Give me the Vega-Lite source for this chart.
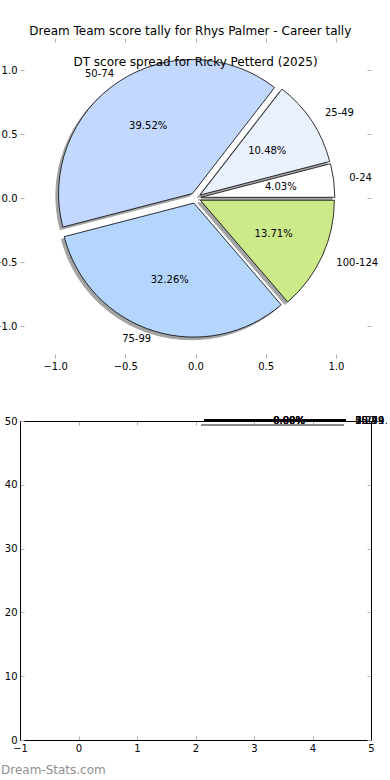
{
  "$schema": "https://vega.github.io/schema/vega-lite/v6.json",
  "background": "white",
  "padding": {"left": -8, "top": 24, "right": 0, "bottom": 0},
  "config": {
    "font": "DejaVu Sans",
    "view": {"stroke": null},
    "title": {"font": "DejaVu Sans", "fontSize": 12, "fontWeight": "normal", "color": "black"},
    "axis": {
      "grid": false,
      "tickColor": "#b0b0b0",
      "tickSize": -4,
      "tickWidth": 1,
      "labelFont": "DejaVu Sans",
      "labelFontSize": 10,
      "labelColor": "black",
      "labelPadding": 7,
      "labelFlush": false,
      "labelOverlap": false,
      "domainColor": "black",
      "domainWidth": 1,
      "title": null
    }
  },
  "title": {"text": "Dream Team score tally for Rhys Palmer - Career tally", "anchor": "middle", "offset": 0},
  "datasets": {
    "tally": [
      {"range": "0-24", "count": 5, "pct": "4.03%"},
      {"range": "25-49", "count": 13, "pct": "10.48%"},
      {"range": "50-74", "count": 49, "pct": "39.52%"},
      {"range": "75-99", "count": 40, "pct": "32.26%"},
      {"range": "100-124", "count": 17, "pct": "13.71%"}
    ],
    "empty": [
      {"range": "0-24", "count": 0, "pct": "0.00%"},
      {"range": "25-49", "count": 0, "pct": "0.00%"},
      {"range": "50-74", "count": 0, "pct": "0.00%"},
      {"range": "75-99", "count": 0, "pct": "0.00%"},
      {"range": "100-124", "count": 0, "pct": "0.00%"}
    ]
  },
  "spacing": 63,
  "bounds": "flush",
  "resolve": {"scale": {"x": "independent", "y": "independent", "theta": "independent", "color": "independent"}},
  "vconcat": [
    {
      "width": 351,
      "height": 320,
      "title": {"text": "DT score spread for Ricky Petterd (2025)", "anchor": "middle", "offset": -31},
      "data": {"name": "tally"},
      "transform": [
        {"window": [{"op": "row_number", "as": "i"}]},
        {"stack": "count", "groupby": [], "sort": [{"field": "i", "order": "ascending"}], "as": ["c0", "c1"]}
      ],
      "resolve": {"axis": {"x": "independent", "y": "independent"}},
      "layer": [
        {
          "mark": {"type": "point", "opacity": 0},
          "encoding": {
            "x": {"datum": 0, "type": "quantitative", "scale": {"domain": [-1.25, 1.25], "nice": false, "zero": false}, "axis": {"orient": "bottom", "values": [-1, -0.5, 0, 0.5, 1], "format": ".1f", "domain": false}},
            "y": {"datum": 0, "type": "quantitative", "scale": {"domain": [-1.25, 1.25], "nice": false, "zero": false}, "axis": {"orient": "left", "values": [-1, -0.5, 0, 0.5, 1], "format": ".1f", "domain": false}}
          }
        },
        {
          "mark": {"type": "point", "opacity": 0},
          "encoding": {
            "x": {"datum": 0, "type": "quantitative", "axis": {"orient": "top", "values": [-1, -0.5, 0, 0.5, 1], "labels": false, "domain": false}},
            "y": {"datum": 0, "type": "quantitative", "axis": {"orient": "right", "values": [-1, -0.5, 0, 0.5, 1], "labels": false, "domain": false}}
          }
        },
        {
          "transform": [{"filter": "datum.range === '0-24'"}],
          "mark": {"type": "arc", "radius": 134, "xOffset": 2.6, "yOffset": 1.9, "fill": "#4a4a4a", "stroke": "#4a4a4a", "strokeWidth": 1, "opacity": 0.5},
          "encoding": {
            "x": {"datum": 0, "type": "quantitative", "axis": null},
            "y": {"datum": 0, "type": "quantitative", "axis": null},
            "theta": {"field": "c0", "type": "quantitative", "scale": {"domain": [0, 124], "range": [1.5707963, -4.712389]}},
            "theta2": {"field": "c1"}
          }
        },
        {
          "transform": [{"filter": "datum.range === '25-49'"}],
          "mark": {"type": "arc", "radius": 134, "xOffset": 1.8, "yOffset": -0.35, "fill": "#4a4a4a", "stroke": "#4a4a4a", "strokeWidth": 1, "opacity": 0.5},
          "encoding": {
            "x": {"datum": 0, "type": "quantitative", "axis": null},
            "y": {"datum": 0, "type": "quantitative", "axis": null},
            "theta": {"field": "c0", "type": "quantitative", "scale": {"domain": [0, 124], "range": [1.5707963, -4.712389]}},
            "theta2": {"field": "c1"}
          }
        },
        {
          "transform": [{"filter": "datum.range === '50-74'"}],
          "mark": {"type": "arc", "radius": 134, "xOffset": -5.65, "yOffset": -1.9, "fill": "#4a4a4a", "stroke": "#4a4a4a", "strokeWidth": 1, "opacity": 0.5},
          "encoding": {
            "x": {"datum": 0, "type": "quantitative", "axis": null},
            "y": {"datum": 0, "type": "quantitative", "axis": null},
            "theta": {"field": "c0", "type": "quantitative", "scale": {"domain": [0, 124], "range": [1.5707963, -4.712389]}},
            "theta2": {"field": "c1"}
          }
        },
        {
          "transform": [{"filter": "datum.range === '75-99'"}],
          "mark": {"type": "arc", "radius": 134, "xOffset": -4.3, "yOffset": 7.7, "fill": "#4a4a4a", "stroke": "#4a4a4a", "strokeWidth": 1, "opacity": 0.5},
          "encoding": {
            "x": {"datum": 0, "type": "quantitative", "axis": null},
            "y": {"datum": 0, "type": "quantitative", "axis": null},
            "theta": {"field": "c0", "type": "quantitative", "scale": {"domain": [0, 124], "range": [1.5707963, -4.712389]}},
            "theta2": {"field": "c1"}
          }
        },
        {
          "transform": [{"filter": "datum.range === '100-124'"}],
          "mark": {"type": "arc", "radius": 134, "xOffset": 2.2, "yOffset": 4.8, "fill": "#4a4a4a", "stroke": "#4a4a4a", "strokeWidth": 1, "opacity": 0.5},
          "encoding": {
            "x": {"datum": 0, "type": "quantitative", "axis": null},
            "y": {"datum": 0, "type": "quantitative", "axis": null},
            "theta": {"field": "c0", "type": "quantitative", "scale": {"domain": [0, 124], "range": [1.5707963, -4.712389]}},
            "theta2": {"field": "c1"}
          }
        },
        {
          "transform": [{"filter": "datum.range === '0-24'"}],
          "mark": {"type": "arc", "radius": 134, "xOffset": 5.3, "yOffset": -0.7, "stroke": "black", "strokeWidth": 0.8},
          "encoding": {
            "x": {"datum": 0, "type": "quantitative", "axis": null},
            "y": {"datum": 0, "type": "quantitative", "axis": null},
            "theta": {"field": "c0", "type": "quantitative", "scale": {"domain": [0, 124], "range": [1.5707963, -4.712389]}},
            "theta2": {"field": "c1"},
            "color": {"field": "range", "type": "nominal", "legend": null, "scale": {"domain": ["0-24", "25-49", "50-74", "75-99", "100-124"], "range": ["#ffffff", "#e9f1fe", "#c3d8fe", "#b4d5fe", "#cdea8b"]}}
          }
        },
        {
          "transform": [{"filter": "datum.range === '25-49'"}],
          "mark": {"type": "arc", "radius": 134, "xOffset": 4.5, "yOffset": -2.95, "stroke": "black", "strokeWidth": 0.8},
          "encoding": {
            "x": {"datum": 0, "type": "quantitative", "axis": null},
            "y": {"datum": 0, "type": "quantitative", "axis": null},
            "theta": {"field": "c0", "type": "quantitative", "scale": {"domain": [0, 124], "range": [1.5707963, -4.712389]}},
            "theta2": {"field": "c1"},
            "color": {"field": "range", "type": "nominal", "legend": null, "scale": {"domain": ["0-24", "25-49", "50-74", "75-99", "100-124"], "range": ["#ffffff", "#e9f1fe", "#c3d8fe", "#b4d5fe", "#cdea8b"]}}
          }
        },
        {
          "transform": [{"filter": "datum.range === '50-74'"}],
          "mark": {"type": "arc", "radius": 134, "xOffset": -2.95, "yOffset": -4.5, "stroke": "black", "strokeWidth": 0.8},
          "encoding": {
            "x": {"datum": 0, "type": "quantitative", "axis": null},
            "y": {"datum": 0, "type": "quantitative", "axis": null},
            "theta": {"field": "c0", "type": "quantitative", "scale": {"domain": [0, 124], "range": [1.5707963, -4.712389]}},
            "theta2": {"field": "c1"},
            "color": {"field": "range", "type": "nominal", "legend": null, "scale": {"domain": ["0-24", "25-49", "50-74", "75-99", "100-124"], "range": ["#ffffff", "#e9f1fe", "#c3d8fe", "#b4d5fe", "#cdea8b"]}}
          }
        },
        {
          "transform": [{"filter": "datum.range === '75-99'"}],
          "mark": {"type": "arc", "radius": 134, "xOffset": -1.6, "yOffset": 5.1, "stroke": "black", "strokeWidth": 0.8},
          "encoding": {
            "x": {"datum": 0, "type": "quantitative", "axis": null},
            "y": {"datum": 0, "type": "quantitative", "axis": null},
            "theta": {"field": "c0", "type": "quantitative", "scale": {"domain": [0, 124], "range": [1.5707963, -4.712389]}},
            "theta2": {"field": "c1"},
            "color": {"field": "range", "type": "nominal", "legend": null, "scale": {"domain": ["0-24", "25-49", "50-74", "75-99", "100-124"], "range": ["#ffffff", "#e9f1fe", "#c3d8fe", "#b4d5fe", "#cdea8b"]}}
          }
        },
        {
          "transform": [{"filter": "datum.range === '100-124'"}],
          "mark": {"type": "arc", "radius": 134, "xOffset": 4.9, "yOffset": 2.25, "stroke": "black", "strokeWidth": 0.8},
          "encoding": {
            "x": {"datum": 0, "type": "quantitative", "axis": null},
            "y": {"datum": 0, "type": "quantitative", "axis": null},
            "theta": {"field": "c0", "type": "quantitative", "scale": {"domain": [0, 124], "range": [1.5707963, -4.712389]}},
            "theta2": {"field": "c1"},
            "color": {"field": "range", "type": "nominal", "legend": null, "scale": {"domain": ["0-24", "25-49", "50-74", "75-99", "100-124"], "range": ["#ffffff", "#e9f1fe", "#c3d8fe", "#b4d5fe", "#cdea8b"]}}
          }
        },
        {
          "mark": {"type": "text", "radius": 86, "fontSize": 10, "align": "center", "baseline": "middle", "color": "black"},
          "encoding": {
            "theta": {"field": "count", "type": "quantitative", "stack": true, "scale": {"domain": [0, 124], "range": [1.5707963, -4.712389]}},
            "order": {"field": "i", "type": "quantitative"},
            "text": {"field": "pct", "type": "nominal"}
          }
        },
        {
          "mark": {"type": "text", "radius": 155, "fontSize": 10, "align": "left", "baseline": "middle", "color": "black"},
          "encoding": {
            "theta": {"field": "count", "type": "quantitative", "stack": true, "scale": {"domain": [0, 124], "range": [1.5707963, -4.712389]}},
            "order": {"field": "i", "type": "quantitative"},
            "text": {"field": "range", "type": "nominal"},
            "opacity": {"condition": {"test": "datum.range === '50-74' || datum.range === '75-99'", "value": 0}, "value": 1}
          }
        },
        {
          "mark": {"type": "text", "radius": 148, "fontSize": 10, "align": "right", "baseline": "middle", "color": "black"},
          "encoding": {
            "theta": {"field": "count", "type": "quantitative", "stack": true, "scale": {"domain": [0, 124], "range": [1.5707963, -4.712389]}},
            "order": {"field": "i", "type": "quantitative"},
            "text": {"field": "range", "type": "nominal"},
            "opacity": {"condition": {"test": "datum.range === '50-74' || datum.range === '75-99'", "value": 1}, "value": 0}
          }
        }
      ]
    },
    {
      "width": 351,
      "height": 319,
      "title": {"text": "Dream-Stats.com", "orient": "bottom", "anchor": "start", "frame": "group", "dx": -19, "offset": 12, "color": "#909090", "fontSize": 12},
      "data": {"name": "empty"},
      "resolve": {"axis": {"x": "independent", "y": "independent"}},
      "layer": [
        {
          "mark": {"type": "point", "opacity": 0},
          "encoding": {
            "x": {"datum": 0, "type": "quantitative", "scale": {"domain": [-1, 5], "nice": false, "zero": false}, "axis": {"orient": "bottom", "values": [-1, 0, 1, 2, 3, 4, 5], "format": "d", "domain": true}},
            "y": {"datum": 0, "type": "quantitative", "scale": {"domain": [0, 50], "nice": false, "zero": false}, "axis": {"orient": "left", "values": [0, 10, 20, 30, 40, 50], "format": "d", "domain": true}}
          }
        },
        {
          "mark": {"type": "point", "opacity": 0},
          "encoding": {
            "x": {"datum": 0, "type": "quantitative", "axis": {"orient": "top", "values": [-1, 0, 1, 2, 3, 4, 5], "labels": false, "domain": true}},
            "y": {"datum": 0, "type": "quantitative", "axis": {"orient": "right", "values": [0, 10, 20, 30, 40, 50], "labels": false, "domain": true}}
          }
        },
        {
          "mark": {"type": "rule", "color": "#8a8a8a", "strokeWidth": 1.5, "yOffset": 4},
          "encoding": {
            "x": {"datum": 2.1, "type": "quantitative", "axis": null},
            "x2": {"datum": 4.53},
            "y": {"datum": 50, "type": "quantitative", "axis": null}
          }
        },
        {
          "mark": {"type": "rule", "color": "black", "strokeWidth": 1.5, "yOffset": -1},
          "encoding": {
            "x": {"datum": 2.15, "type": "quantitative", "axis": null},
            "x2": {"datum": 4.57},
            "y": {"datum": 50, "type": "quantitative", "axis": null}
          }
        },
        {
          "mark": {"type": "text", "fontSize": 10, "align": "center", "baseline": "middle", "color": "black"},
          "encoding": {
            "x": {"datum": 3.6, "type": "quantitative", "axis": null},
            "y": {"datum": 50, "type": "quantitative", "axis": null},
            "text": {"field": "pct", "type": "nominal"}
          }
        },
        {
          "mark": {"type": "text", "fontSize": 10, "align": "left", "baseline": "middle", "color": "black", "limit": 33, "ellipsis": ""},
          "encoding": {
            "x": {"datum": 4.73, "type": "quantitative", "axis": null},
            "y": {"datum": 50, "type": "quantitative", "axis": null},
            "text": {"field": "range", "type": "nominal"}
          }
        }
      ]
    }
  ]
}
